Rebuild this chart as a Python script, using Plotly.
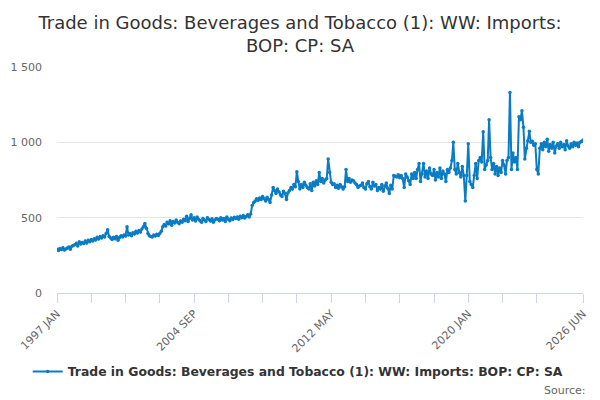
import pandas as pd
import plotly.graph_objs as go

title_text = 'Trade in Goods: Beverages and Tobacco (1): WW: Imports:<br>BOP: CP: SA'
series_name = 'Trade in Goods: Beverages and Tobacco (1): WW: Imports: BOP: CP: SA'

# monthly values, 1997 JAN .. 2026 JUN (one row per year)
imports = [
    290, 282, 295, 288, 300, 285, 292, 298, 305, 290, 310, 315,
    320, 330, 312, 340, 325, 335, 328, 345, 332, 350, 340, 355,
    345, 360, 352, 370, 358, 375, 365, 380, 372, 395, 420, 375,
    365, 355, 370, 360, 375, 350, 368, 380, 372, 385, 378, 440,
    385, 395, 380, 400, 392, 410, 398, 415, 405, 425, 440, 462,
    430, 395, 380, 375, 372, 385, 378, 390, 382, 395, 410, 440,
    455, 445, 470, 460, 480, 450, 475, 465, 485, 470, 460, 478,
    470, 490, 480, 510, 475, 495, 520, 485, 500, 478, 505, 490,
    480, 470, 495, 485, 475, 500, 488, 478, 492, 470, 485, 495,
    490, 480, 500, 485, 495, 475, 505, 490, 480, 498, 488, 502,
    495, 505, 490, 510, 500, 515, 498, 508, 520, 505, 525, 580,
    600, 610, 625, 615, 630, 620, 640, 625, 610, 635, 620, 600,
    650, 700, 680, 660, 690, 670, 650, 640, 675, 660, 620, 665,
    680, 700, 690, 720, 705, 805, 740, 690, 720, 700, 735, 715,
    700, 690, 725, 680, 735, 710, 745, 720, 800, 740, 760, 730,
    750, 760, 890, 800, 735, 720, 725, 700, 715, 695, 720, 705,
    690, 705, 820, 740, 760, 735, 750, 745, 730, 720, 700, 710,
    715, 730, 700, 690, 725, 740, 705, 690, 735, 710, 720, 680,
    700, 690, 720, 675, 710, 730, 695, 660, 715, 690, 780, 775,
    770, 785, 765, 780, 760, 700, 790, 770, 745, 720, 790, 760,
    800, 760, 820, 860, 740, 790, 860, 770, 810, 760, 830, 790,
    780, 820, 750, 800, 770, 830, 760, 810, 790, 740, 820, 800,
    830, 880, 1000, 820, 790, 860, 800, 770, 840, 780, 610, 780,
    990, 740, 720, 700, 780, 860, 760, 880, 900, 870, 1070, 820,
    850, 880, 1150, 900, 820, 860, 790, 840, 780, 830, 800, 880,
    850, 790, 880, 900, 1330, 820, 930, 870, 900, 820, 1170, 1150,
    1210, 1100, 890, 960, 1010, 1073, 1000, 1007, 980, 990, 820, 790,
    960, 990, 950, 1000, 970, 1020, 940, 985, 960, 1000, 930, 975,
    990, 960, 1000, 970, 985, 950, 1010, 975, 960, 990, 970, 1000,
    980, 995, 970, 1000, 1005, 1015,
]

months = pd.date_range('1997-01-01', periods=len(imports), freq='MS')

# x ticks every 23 months, label on every 4th one plus the last month
tick_dates = ['1997-01-01', '1998-12-01', '2000-11-01', '2002-10-01',
              '2004-09-01', '2006-08-01', '2008-07-01', '2010-06-01',
              '2012-05-01', '2014-04-01', '2016-03-01', '2018-02-01',
              '2020-01-01', '2021-12-01', '2023-11-01', '2026-06-01']
tick_labels = ['1997 JAN', '', '', '', '2004 SEP', '', '', '',
               '2012 MAY', '', '', '', '2020 JAN', '', '', '2026 JUN']

y_ticks = [0, 500, 1000, 1500]

fig = go.Figure()
fig.add_traces(go.Scatter(x=months, y=imports, mode='lines+markers',
                          name='<b>' + series_name + '</b>',
                          line={'color': '#0a7cc4', 'width': 2},
                          marker={'color': '#0a7cc4', 'size': 3.5}))

fig.update_layout(
    width=600, height=400,
    margin={'l': 57, 'r': 17, 't': 67, 'b': 107},
    paper_bgcolor='white', plot_bgcolor='white',
    font={'family': 'DejaVu Sans', 'color': '#333333'},
    separators='. ',
    title={'text': title_text, 'x': 0.5, 'y': 0.928, 'xref': 'container',
           'yref': 'container', 'xanchor': 'center', 'yanchor': 'middle',
           'font': {'size': 18, 'color': '#333333'}},
    showlegend=True,
    legend={'orientation': 'h', 'xref': 'container', 'yref': 'container',
            'x': 0.497, 'xanchor': 'center', 'y': 0.07, 'yanchor': 'middle',
            'font': {'size': 12.4, 'color': '#333333'}},
    xaxis={'type': 'date', 'range': [months[0], months[-1]],
           'tickmode': 'array', 'tickvals': tick_dates, 'ticktext': tick_labels,
           'tickangle': -45, 'ticks': 'outside', 'ticklen': 9,
           'tickcolor': '#ccd6eb', 'showline': True, 'linecolor': '#ccd6eb',
           'showgrid': False, 'zeroline': False, 'automargin': False,
           'tickfont': {'size': 11, 'color': '#666666'}},
    yaxis={'range': [0, 1500], 'tickmode': 'array', 'tickvals': y_ticks,
           'tickformat': ',', 'showgrid': True, 'gridcolor': '#e6e6e6',
           'zeroline': False, 'ticks': '', 'ticklabelstandoff': 14,
           'automargin': False,
           'tickfont': {'size': 11, 'color': '#666666'}},
)

fig.add_annotation(text='Source:', xref='paper', yref='paper',
                   x=1.01, y=-0.43, xanchor='right', yanchor='middle',
                   showarrow=False, font={'size': 11, 'color': '#666666'})

# page body has an 8px default margin, drop it so the figure sits at 0,0
fig.write_html('out.html', config={'displayModeBar': False},
               post_script="document.body.style.margin='0';")
